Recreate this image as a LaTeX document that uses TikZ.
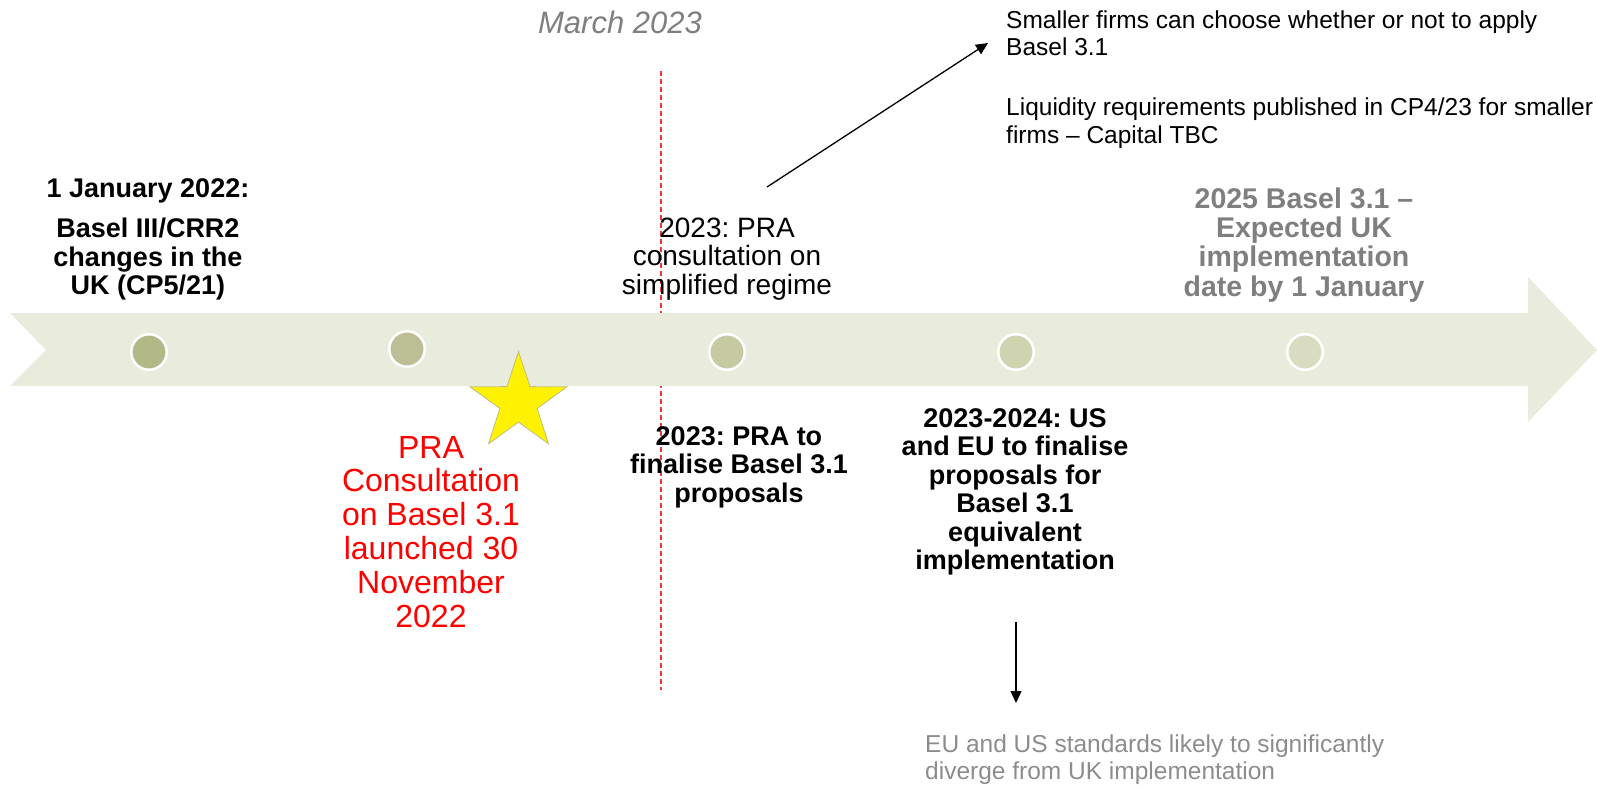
\documentclass[tikz,border=0pt]{standalone}
\usepackage{fontspec}
\setmainfont{Liberation Sans}
\usetikzlibrary{shapes.geometric,arrows.meta}
\frenchspacing

\definecolor{bandgreen}{HTML}{E9ECDC}
\definecolor{dotA}{HTML}{B3B887}
\definecolor{dotB}{HTML}{BCBF95}
\definecolor{dotC}{HTML}{C6C9A2}
\definecolor{dotD}{HTML}{D0D3B0}
\definecolor{dotE}{HTML}{DADCC2}
\definecolor{midgrey}{HTML}{7F7F7F}
\definecolor{lightgrey}{HTML}{8C8C8C}
\definecolor{starrim}{HTML}{BDBD8C}
\definecolor{markred}{HTML}{E8383D}

% centred / left-aligned blocks whose baseline is the first line
\newcommand{\cstack}[1]{\begin{tabular}[t]{@{}c@{}}#1\end{tabular}}
\newcommand{\lstack}[1]{\begin{tabular}[t]{@{}l@{}}#1\end{tabular}}

\begin{document}
\begin{tikzpicture}[x=1pt,y=-1pt,
  dot/.style={circle, draw=white, line width=2.5pt, minimum size=35.5pt, inner sep=0pt},
  txt/.style={inner sep=0pt, anchor=base},
  boldtxt/.style={txt, font=\fontsize{27}{28.5}\selectfont\bfseries},
  plaintxt/.style={txt, font=\fontsize{28}{28}\selectfont},
  redtxt/.style={txt, text=red, font=\fontsize{32}{33.8}\selectfont},
  greybold/.style={txt, text=midgrey, font=\fontsize{28.5}{29}\selectfont\bfseries},
  notetxt/.style={txt, font=\fontsize{24.5}{27.5}\selectfont},
  pointer/.style={line width=1.3pt, -{Triangle[length=12pt,width=11pt]}},
]
\useasboundingbox (0,0) rectangle (1597,789);

% March 2023 marker line
\coordinate (markTop) at (661,71);
\coordinate (markBot) at (661,690);
\draw[markred, line width=1.2pt, dash pattern=on 5pt off 3pt] (markTop) -- (markBot);

% timeline band with notched tail and arrow head
\fill[bandgreen] (10,313) -- (1528,313) -- (1528,277) -- (1597,350)
  -- (1528,422) -- (1528,386) -- (10,386) -- (46,350) -- cycle;

% milestones
\node[dot, fill=dotA] (m1) at (149,352) {};
\node[dot, fill=dotB] (m2) at (407,349) {};
\node[dot, fill=dotC] (m3) at (727,352) {};
\node[dot, fill=dotD] (m4) at (1016,352) {};
\node[dot, fill=dotE] (m5) at (1305,352) {};

% highlight star
\node[star, star points=5, star point ratio=2.6, minimum size=102pt, inner sep=0pt,
      fill=yellow, draw=starrim, line width=0.8pt] (star) at (518.5,402.5) {};

% headings
\node[txt, text=midgrey, font=\fontsize{31}{31}\selectfont\itshape] (march) at (620,34) {March 2023};

\node[boldtxt] (jan22) at (148,197)
  {\cstack{1 January 2022:\\[12pt] Basel III/CRR2\\ changes in the\\ UK (CP5/21)}};

\node[plaintxt] (simpl) at (727,237)
  {\cstack{2023: PRA\\ consultation on\\ simplified regime}};

\node[greybold] (y2025) at (1304,208)
  {\cstack{2025 Basel 3.1 –\\ Expected UK\\ implementation\\ date by 1 January}};

\node[redtxt] (consult) at (431,458)
  {\cstack{PRA\\ Consultation\\ on Basel 3.1\\ launched 30\\ November\\ 2022}};

\node[boldtxt] (final) at (739,445)
  {\cstack{2023: PRA to\\ finalise Basel 3.1\\ proposals}};

\node[boldtxt] (useu) at (1015,427)
  {\cstack{2023-2024: US\\ and EU to finalise\\ proposals for\\ Basel 3.1\\ equivalent\\ implementation}};

% side notes
\node[notetxt, anchor=base west] (small) at (1006,28.5)
  {\lstack{Smaller firms can choose whether or not to apply\\ Basel 3.1}};
\node[notetxt, anchor=base west] (liq) at (1006,116)
  {\lstack{Liquidity requirements published in CP4/23 for smaller\\ firms – Capital TBC}};
\node[notetxt, text=lightgrey, anchor=base west] (diverge) at (925,752)
  {\lstack{EU and US standards likely to significantly\\ diverge from UK implementation}};

% pointers
\coordinate (diagFrom) at (767,187);
\coordinate (diagTo) at (988,43);
\draw[pointer] (diagFrom) -- (diagTo);
\coordinate (downFrom) at (1016,622);
\coordinate (downTo) at (1016,703);
\draw[pointer] (downFrom) -- (downTo);
\end{tikzpicture}
\end{document}
